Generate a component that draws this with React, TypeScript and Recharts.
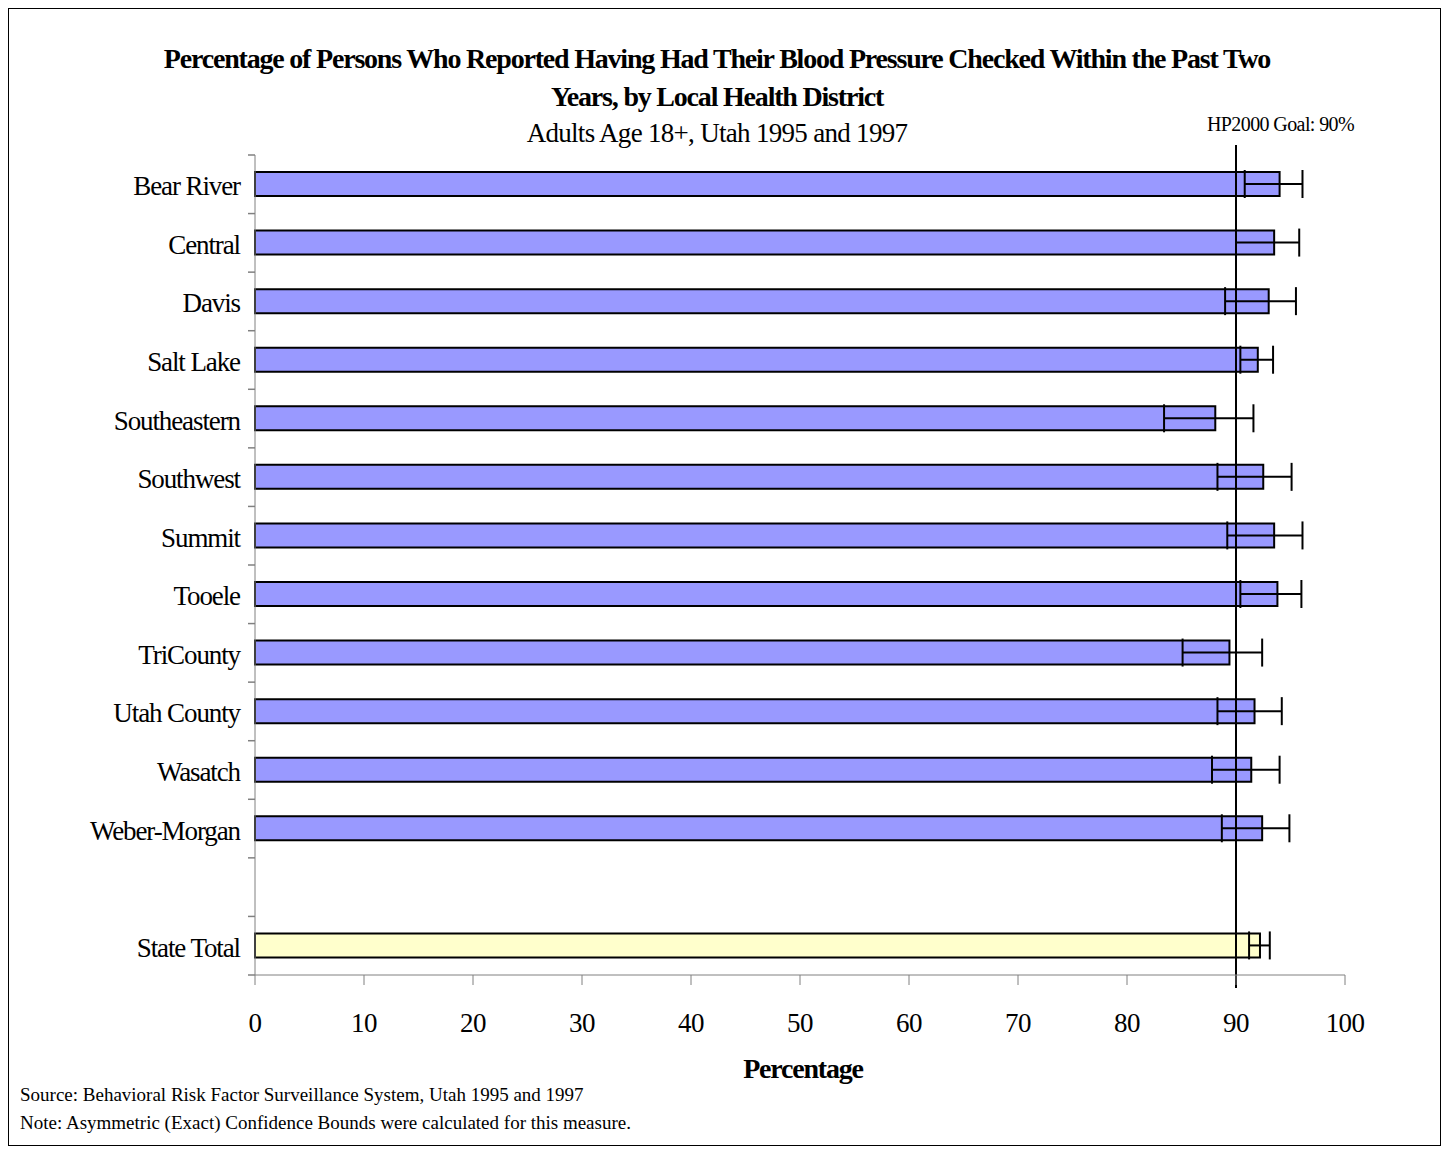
import React from "react";
import {
  BarChart,
  Bar,
  XAxis,
  YAxis,
  ErrorBar,
  Cell,
  ReferenceLine,
} from "recharts";

const districts = [
  "Bear River",
  "Central",
  "Davis",
  "Salt Lake",
  "Southeastern",
  "Southwest",
  "Summit",
  "Tooele",
  "TriCounty",
  "Utah County",
  "Wasatch",
  "Weber-Morgan",
  " ",
  "State Total",
];
const percent = [94.0, 93.5, 93.0, 92.0, 88.1, 92.5, 93.5, 93.8, 89.4, 91.7, 91.4, 92.4, null, 92.2];
const lowerBound = [90.8, 90.0, 89.0, 90.4, 83.4, 88.3, 89.2, 90.4, 85.1, 88.3, 87.8, 88.7, null, 91.2];
const upperBound = [96.1, 95.8, 95.5, 93.4, 91.6, 95.1, 96.1, 96.0, 92.4, 94.2, 94.0, 94.9, null, 93.1];
const xTicks = [0, 10, 20, 30, 40, 50, 60, 70, 80, 90, 100];
const goal = 90;

const data = districts.map((name, i) => {
  const v = percent[i];
  return {
    name,
    value: v,
    err: v == null ? null : [v - (lowerBound[i] as number), (upperBound[i] as number) - v],
  };
});

const SERIF = '"Liberation Serif", "Times New Roman", serif';
const PLOT_TOP = 155;
const PLOT_BOTTOM = 975;
const BAND = (PLOT_BOTTOM - PLOT_TOP) / districts.length;

function CategoryTick(props: any) {
  const { x, y, payload, index } = props;
  const axisX = 255;
  return (
    <g>
      <line x1={axisX - 7} x2={axisX} y1={y - BAND / 2} y2={y - BAND / 2} stroke="#808080" strokeWidth={1.5} />
      {index === districts.length - 1 && (
        <line x1={axisX - 7} x2={axisX} y1={y + BAND / 2} y2={y + BAND / 2} stroke="#808080" strokeWidth={1.5} />
      )}
      <text
        x={x - 7}
        y={y + 2}
        textAnchor="end"
        dominantBaseline="central"
        fontFamily={SERIF}
        fontSize={27}
        letterSpacing={-1.1}
        fill="#000"
      >
        {payload.value}
      </text>
    </g>
  );
}

function GoalLine(props: any) {
  const top = Math.min(props.y1, props.y2);
  const bottom = Math.max(props.y1, props.y2);
  return <line x1={props.x1} x2={props.x2} y1={top - 10} y2={bottom + 13} stroke="#000" strokeWidth={2} />;
}

export default function App() {
  // wrapper sits at the body's 8px offset; the inner layer is shifted back so
  // everything below is placed in page coordinates
  return (
    <div style={{ position: "relative", width: 1433, height: 1144, fontFamily: SERIF }}>
      <div style={{ position: "absolute", left: -8, top: -8, width: 1449, height: 1152 }}>
        <BarChart
          width={1449}
          height={1152}
          data={data}
          layout="vertical"
          margin={{ top: PLOT_TOP, right: 104, bottom: 67, left: 0 }}
          barSize={24}
        >
          <XAxis
            type="number"
            domain={[0, 100]}
            ticks={xTicks}
            height={110}
            stroke="#808080"
            tickSize={10}
            tickMargin={28}
            tick={{ fill: "#000", fontFamily: SERIF, fontSize: 27, letterSpacing: -0.6 }}
          />
          <YAxis
            type="category"
            dataKey="name"
            width={255}
            stroke="#808080"
            tickLine={false}
            interval={0}
            tick={<CategoryTick />}
          />
          <Bar dataKey="value" stroke="#000" strokeWidth={2} isAnimationActive={false}>
            {data.map((d, i) => (
              <Cell key={i} fill={d.name === "State Total" ? "#FFFFCC" : "#9999FF"} />
            ))}
            <ErrorBar dataKey="err" direction="x" width={14} stroke="#000" strokeWidth={2} />
          </Bar>
          <ReferenceLine x={goal} shape={<GoalLine />} />
        </BarChart>
        <div
          style={{
            position: "absolute",
            left: 0,
            width: 1434,
            top: 40,
            textAlign: "center",
            fontWeight: "bold",
            fontSize: 28,
            letterSpacing: -1.2,
            lineHeight: "38px",
          }}
        >
          Percentage of Persons Who Reported Having Had Their Blood Pressure Checked Within the Past Two
          <br />
          Years, by Local Health District
        </div>
        <div
          style={{
            position: "absolute",
            left: 0,
            width: 1434,
            top: 118,
            textAlign: "center",
            fontSize: 27,
            letterSpacing: -0.7,
          }}
        >
          Adults Age 18+, Utah 1995 and 1997
        </div>
        <div style={{ position: "absolute", left: 1207, top: 113, fontSize: 20, letterSpacing: -0.6, whiteSpace: "nowrap" }}>
          HP2000 Goal: 90%
        </div>
        <div
          style={{
            position: "absolute",
            left: 0,
            width: 1606,
            top: 1053,
            textAlign: "center",
            fontWeight: "bold",
            fontSize: 28,
            letterSpacing: -1.2,
          }}
        >
          Percentage
        </div>
        <div style={{ position: "absolute", left: 20, top: 1084, fontSize: 19, whiteSpace: "nowrap" }}>
          Source: Behavioral Risk Factor Surveillance System, Utah 1995 and 1997
        </div>
        <div style={{ position: "absolute", left: 20, top: 1112, fontSize: 19, whiteSpace: "nowrap" }}>
          Note: Asymmetric (Exact) Confidence Bounds were calculated for this measure.
        </div>
      </div>
      <div
        style={{
          position: "absolute",
          left: 0,
          top: 0,
          width: 1433,
          height: 1138,
          boxSizing: "border-box",
          border: "1px solid #000",
          pointerEvents: "none",
        }}
      />
    </div>
  );
}
